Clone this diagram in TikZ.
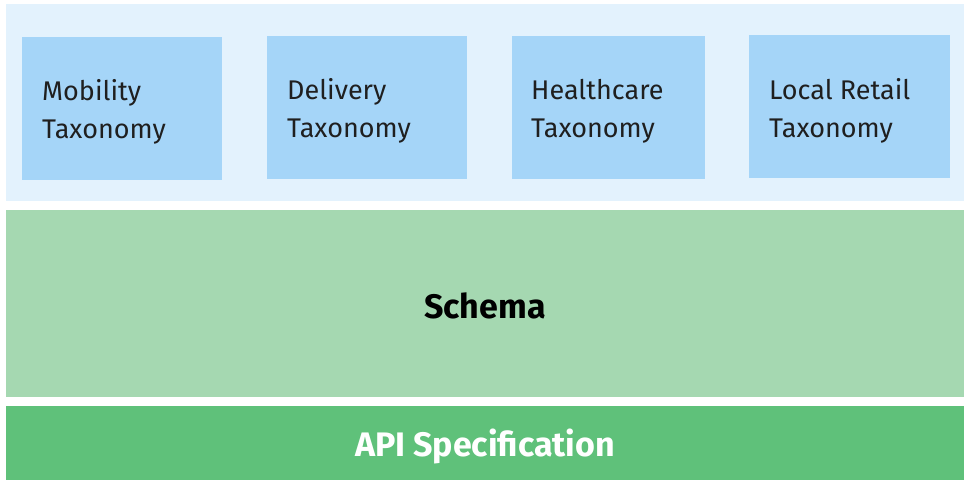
\documentclass[tikz,border=0pt]{standalone}
\usepackage{fontspec}
\setmainfont{Fira Sans}
\definecolor{outerbg}{HTML}{E3F2FD}
\definecolor{taxbox}{HTML}{A5D5F8}
\definecolor{schemagreen}{HTML}{A5D8B1}
\definecolor{apigreen}{HTML}{5FC17A}
\begin{document}
\begin{tikzpicture}[x=1pt,y=-1pt,
  taxtext/.style={anchor=west, align=left, inner sep=0pt,
     font=\fontsize{27}{38}\selectfont, text=black!88},
  layertext/.style={font=\fontsize{34}{40}\selectfont\bfseries}]
\useasboundingbox[fill=white] (0,0) rectangle (970,489);
\fill[outerbg] (6,4) rectangle (964,201);
\fill[taxbox] (22,37) rectangle (222,180);
\fill[taxbox] (267,36) rectangle (467,179);
\fill[taxbox] (512,36) rectangle (705,179);
\fill[taxbox] (749,35) rectangle (950,178);
\node[taxtext] (mob) at (42,112) {Mobility\\Taxonomy};
\node[taxtext] (del) at (287,111) {Delivery\\Taxonomy};
\node[taxtext] (hea) at (531,111) {Healthcare\\Taxonomy};
\node[taxtext] (loc) at (769,111) {Local Retail\\Taxonomy};
\fill[schemagreen] (6,210) rectangle (964,397);
\node[layertext] (sch) at (485,306) {Schema};
\fill[apigreen] (6,406) rectangle (964,480);
\node[layertext, text=white] (api) at (485,446) {API Specification};
\end{tikzpicture}
\end{document}
